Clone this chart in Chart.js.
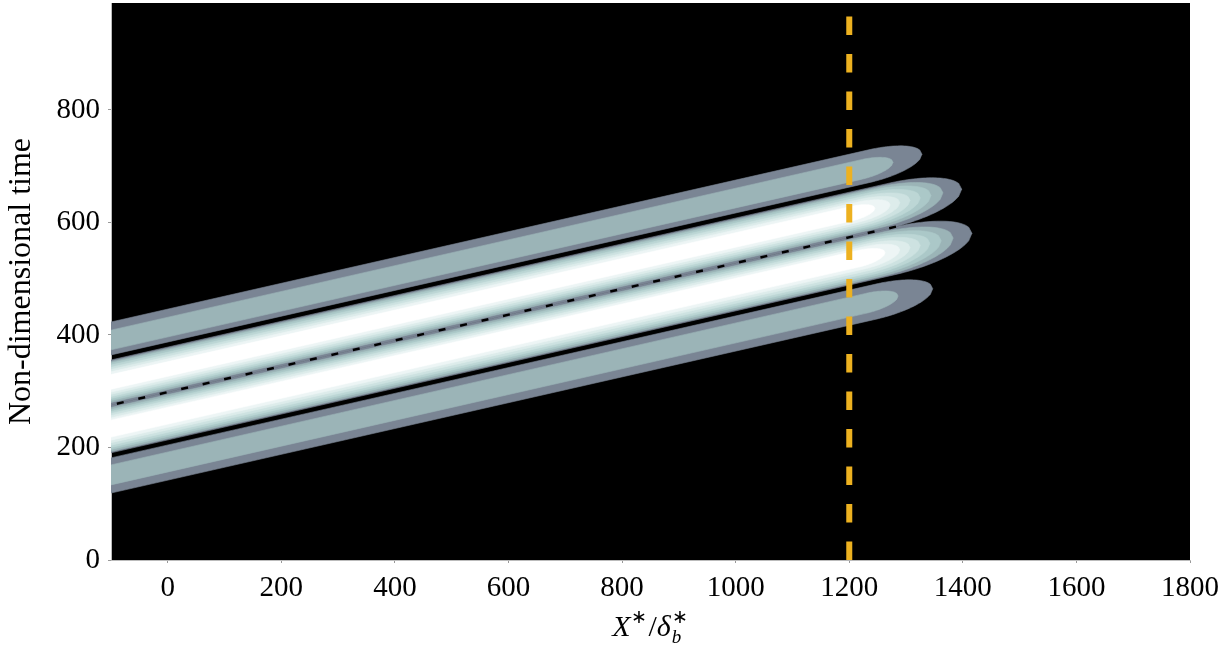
<!DOCTYPE html>
<html>
<head>
<meta charset="utf-8">
<script src="https://cdn.jsdelivr.net/npm/chart.js@4.4.1/dist/chart.umd.min.js"></script>
<style>
  html, body { margin: 0; padding: 0; background: #fff; }
  #wrap { width: 1227px; height: 650px; }
</style>
</head>
<body>
<div id="wrap"><canvas id="packet" width="1227" height="650"></canvas></div>
<script>
/* ---- DATA ---- */
const xTicks = [0, 200, 400, 600, 800, 1000, 1200, 1400, 1600, 1800];
const yTicks = [0, 200, 400, 600, 800];
const xRange = [-100, 1800];
const yRange = [0, 990];

// ridge of the wave packet (time between the two main lobes)
const ridgeX = [-100, 1500];
const ridgeT = [275.5, 642.5];
const ridgeDashEnd = 1298;

// probe station
const probeX = 1200;

// filled contour colours, lowest level first
const levelColors = ['#7a8594', '#9bb4b7', '#abc8c8', '#bcd6d5', '#cde2e1', '#ddeceb', '#edf5f5', '#ffffff'];

// each lobe: per contour level, lower / upper time offset from the ridge and x of the rounded tip
const outerUpperLo  = [89, 98];
const outerUpperHi  = [147.5, 133];
const outerUpperTip = [1328, 1277];

const mainUpperLo  = [0, 4.5, 8, 11.5, 15, 19, 23, 28];
const mainUpperHi  = [80, 77.5, 74.5, 71, 67, 63, 59, 54];
const mainUpperTip = [1398, 1365, 1344, 1325, 1307, 1289, 1272, 1245];

const mainLowerLo  = [-85, -82.5, -79, -75.5, -71.5, -67, -62.5, -57];
const mainLowerHi  = [0, -4.5, -8, -11.5, -15, -19, -23, -27];
const mainLowerTip = [1416, 1383, 1362, 1342, 1325, 1307, 1289, 1263];

const outerLowerLo  = [-156.5, -142];
const outerLowerHi  = [-94, -106.5];
const outerLowerTip = [1347, 1286];

// length of the rounded end, in x units per unit of half-width
const capRatio = 3.2;

/* ---- GEOMETRY ---- */
function ridgeAt(x) {
  return ridgeT[0] + (x - ridgeX[0]) * (ridgeT[1] - ridgeT[0]) / (ridgeX[1] - ridgeX[0]);
}

// closed outline of one contour band: straight sides along the ridge, elliptic tip
function lobeOutline(lo, hi, tip) {
  const mid = (lo + hi) / 2, hw = (hi - lo) / 2;
  const cap = hw * capRatio;
  const x0 = tip - cap;
  const lower = [{ x: ridgeX[0], y: ridgeAt(ridgeX[0]) + lo }];
  const upper = [{ x: ridgeX[0], y: ridgeAt(ridgeX[0]) + hi }];
  const n = 24;
  for (let i = 0; i <= n; i++) {
    const u = i / n;
    const x = x0 + cap * u;
    const w = hw * Math.sqrt(1 - u * u);
    lower.push({ x, y: ridgeAt(x) + mid - w });
    upper.push({ x, y: ridgeAt(x) + mid + w });
  }
  return lower.concat(upper.reverse());
}

function bandDatasets(los, his, tips) {
  return los.map((lo, k) => ({
    data: lobeOutline(lo, his[k], tips[k]),
    showLine: true,
    fill: 'shape',
    backgroundColor: levelColors[k],
    borderColor: levelColors[k],
    borderWidth: 0.6,
    pointRadius: 0,
    tension: 0,
    order: 50 - k
  }));
}

const datasets = [
  ...bandDatasets(outerUpperLo, outerUpperHi, outerUpperTip),
  ...bandDatasets(mainUpperLo, mainUpperHi, mainUpperTip),
  ...bandDatasets(mainLowerLo, mainLowerHi, mainLowerTip),
  ...bandDatasets(outerLowerLo, outerLowerHi, outerLowerTip),
  {
    // zero crossing between the main lobes
    data: [{ x: ridgeX[0], y: ridgeAt(ridgeX[0]) }, { x: ridgeDashEnd, y: ridgeAt(ridgeDashEnd) }],
    showLine: true,
    borderColor: '#000',
    borderWidth: 2.5,
    borderDash: [7, 15],
    borderDashOffset: 16,
    pointRadius: 0,
    fill: false,
    order: 1
  },
  {
    data: [{ x: probeX, y: yRange[0] }, { x: probeX, y: yRange[1] }],
    showLine: true,
    borderColor: '#EDB120',
    borderWidth: 6,
    borderDash: [18.5, 19],
    pointRadius: 0,
    fill: false,
    order: 0
  }
];

/* ---- PLUGINS ---- */
const blackArea = {
  id: 'blackArea',
  beforeDraw(chart) {
    const { ctx, chartArea: a } = chart;
    ctx.save();
    ctx.fillStyle = '#fff';
    ctx.fillRect(0, 0, chart.width, chart.height);
    ctx.fillStyle = '#000';
    ctx.fillRect(a.left, a.top, a.right - a.left, a.bottom - a.top);
    ctx.restore();
  }
};

// x title with super/subscripts: X*/δ*_b
const xTitle = {
  id: 'xTitle',
  afterDraw(chart) {
    const { ctx, chartArea: a } = chart;
    const fam = '"Liberation Serif", serif';
    const big = 30, small = 19;
    const base = 636;
    const parts = [
      { t: 'X', f: `italic ${big}px ${fam}`, dy: 0 },
      { t: '∗', f: `${small}px ${fam}`, dy: -13 },
      { t: '/', f: `${big}px ${fam}`, dy: 0, pre: 2 },
      { t: 'δ', f: `italic ${big}px ${fam}`, dy: 0 }
    ];
    ctx.save();
    ctx.fillStyle = '#000';
    ctx.textBaseline = 'alphabetic';
    let w = 0;
    parts.forEach(p => { ctx.font = p.f; p.w = ctx.measureText(p.t).width; w += p.w + (p.pre || 0); });
    ctx.font = `${small}px ${fam}`;
    const scriptW = ctx.measureText('∗').width + 2;
    w += scriptW;
    let x = (a.left + a.right) / 2 - w / 2;
    parts.forEach(p => {
      x += p.pre || 0;
      ctx.font = p.f;
      ctx.fillText(p.t, x, base + p.dy);
      x += p.w;
    });
    ctx.font = `${small}px ${fam}`;
    ctx.fillText('∗', x + 1, base - 13);
    ctx.font = `italic ${small}px ${fam}`;
    ctx.fillText('b', x + 1, base + 7);
    ctx.restore();
  }
};

/* ---- CHART ---- */
const tickFont = { family: '"Liberation Serif", serif', size: 29 };
const plain = v => String(v);

new Chart(document.getElementById('packet'), {
  type: 'scatter',
  data: { datasets },
  options: {
    responsive: false,
    animation: false,
    devicePixelRatio: 1,
    layout: { padding: { left: 0, top: 3, right: 37, bottom: 0 } },
    plugins: {
      legend: { display: false },
      tooltip: { enabled: false }
    },
    scales: {
      x: {
        type: 'linear',
        min: xRange[0],
        max: xRange[1],
        afterBuildTicks: s => { s.ticks = xTicks.map(v => ({ value: v })); },
        afterFit: s => { s.height = 90; s.paddingLeft = 0; s.paddingRight = 0; },
        grid: { drawOnChartArea: false, tickLength: 3, color: '#999' },
        border: { color: '#bbb' },
        ticks: { font: tickFont, color: '#000', padding: 8, maxRotation: 0, callback: plain }
      },
      y: {
        type: 'linear',
        min: yRange[0],
        max: yRange[1],
        afterBuildTicks: s => { s.ticks = yTicks.map(v => ({ value: v })); },
        afterFit: s => { s.width = 111; s.paddingTop = 0; s.paddingBottom = 0; },
        grid: { drawOnChartArea: false, tickLength: 3, color: '#999' },
        border: { color: '#bbb' },
        ticks: { font: tickFont, color: '#000', padding: 8, callback: plain },
        title: {
          display: true,
          text: 'Non-dimensional time',
          font: { family: '"Liberation Serif", serif', size: 32 },
          color: '#000',
          padding: { top: 2, bottom: 0 }
        }
      }
    }
  },
  plugins: [blackArea, xTitle]
});
</script>
</body>
</html>
